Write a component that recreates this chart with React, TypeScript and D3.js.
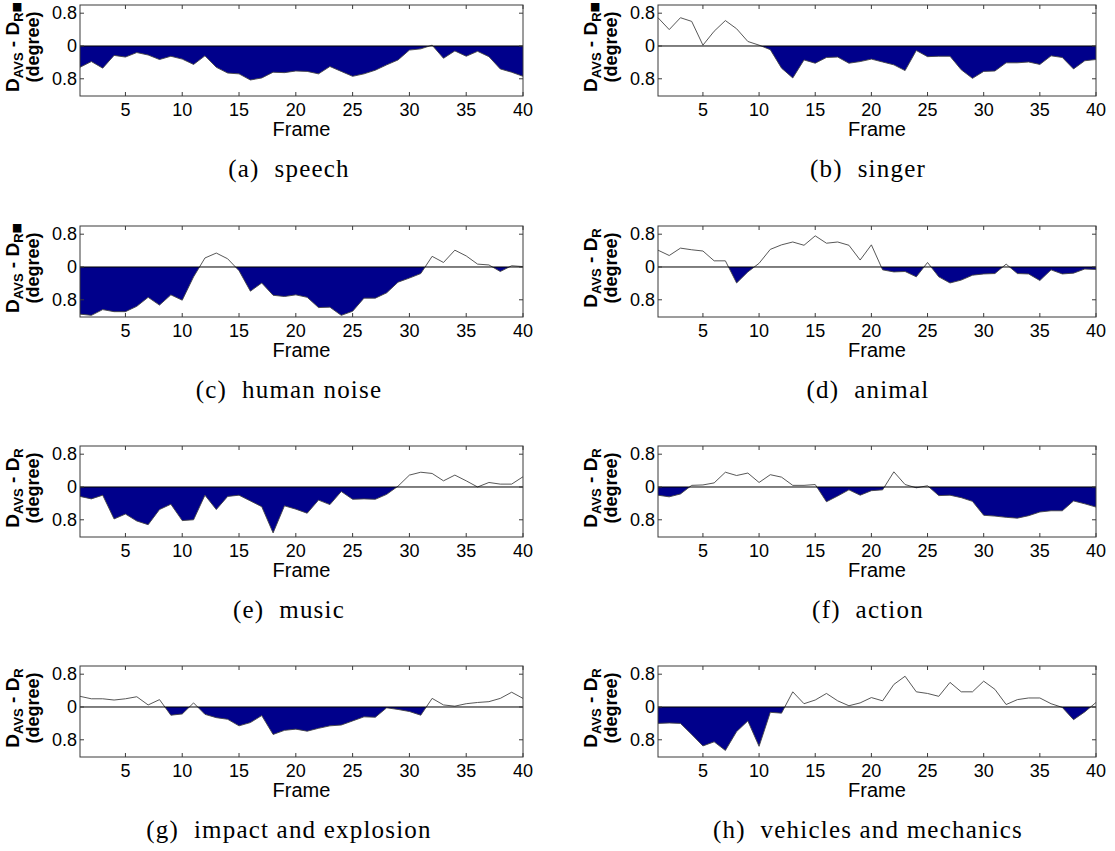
import React from 'react';
import * as d3 from 'd3';

const frames = [1,2,3,4,5,6,7,8,9,10,11,12,13,14,15,16,17,18,19,20,21,22,23,24,25,26,27,28,29,30,31,32,33,34,35,36,37,38,39,40];

const speech = [-0.52,-0.38,-0.54,-0.23,-0.27,-0.16,-0.22,-0.33,-0.25,-0.32,-0.45,-0.24,-0.52,-0.66,-0.68,-0.83,-0.78,-0.64,-0.65,-0.61,-0.62,-0.68,-0.50,-0.62,-0.74,-0.68,-0.59,-0.46,-0.34,-0.10,-0.07,0.02,-0.30,-0.12,-0.25,-0.13,-0.26,-0.56,-0.64,-0.74];
const singer = [0.69,0.40,0.69,0.60,0.02,0.36,0.62,0.42,0.11,0.02,-0.09,-0.54,-0.78,-0.34,-0.42,-0.28,-0.27,-0.42,-0.38,-0.32,-0.39,-0.46,-0.60,-0.11,-0.26,-0.25,-0.25,-0.58,-0.79,-0.62,-0.61,-0.41,-0.41,-0.39,-0.45,-0.24,-0.28,-0.56,-0.36,-0.33];
const humanNoise = [-1.15,-1.18,-1.04,-1.09,-1.09,-0.96,-0.74,-0.93,-0.68,-0.81,-0.24,0.22,0.34,0.20,-0.09,-0.59,-0.39,-0.69,-0.72,-0.68,-0.74,-0.99,-0.98,-1.18,-1.08,-0.76,-0.76,-0.63,-0.37,-0.27,-0.16,0.26,0.11,0.41,0.27,0.07,0.05,-0.11,0.03,0.01];
const animal = [0.41,0.28,0.46,0.42,0.39,0.15,0.15,-0.39,-0.12,0.09,0.43,0.54,0.61,0.53,0.76,0.58,0.61,0.53,0.17,0.54,-0.07,-0.12,-0.11,-0.24,0.11,-0.24,-0.39,-0.32,-0.20,-0.17,-0.16,0.07,-0.16,-0.17,-0.33,-0.07,-0.17,-0.15,-0.05,-0.06];
const music = [-0.23,-0.29,-0.20,-0.78,-0.66,-0.83,-0.92,-0.55,-0.42,-0.82,-0.80,-0.20,-0.55,-0.23,-0.20,-0.34,-0.48,-1.12,-0.46,-0.54,-0.64,-0.32,-0.43,-0.11,-0.30,-0.29,-0.30,-0.18,0.02,0.29,0.36,0.33,0.15,0.29,0.15,0.0,0.11,0.07,0.07,0.25];
const action = [-0.20,-0.24,-0.17,0.04,0.05,0.10,0.36,0.28,0.34,0.11,0.30,0.24,0.04,0.04,0.06,-0.36,-0.22,-0.07,-0.20,-0.09,-0.07,0.37,0.06,-0.02,0.03,-0.21,-0.20,-0.26,-0.35,-0.69,-0.71,-0.74,-0.76,-0.70,-0.61,-0.58,-0.58,-0.34,-0.41,-0.49];
const impact = [0.26,0.20,0.20,0.17,0.20,0.25,0.05,0.18,-0.20,-0.17,0.10,-0.18,-0.26,-0.30,-0.46,-0.38,-0.21,-0.67,-0.57,-0.54,-0.59,-0.52,-0.46,-0.44,-0.34,-0.24,-0.25,-0.02,-0.06,-0.11,-0.20,0.21,0.05,0.02,0.08,0.11,0.13,0.21,0.36,0.21];
const vehicles = [-0.40,-0.39,-0.40,-0.67,-0.95,-0.85,-1.06,-0.60,-0.34,-0.96,-0.13,-0.15,0.37,0.08,0.17,0.33,0.15,0.03,0.10,0.23,0.15,0.55,0.75,0.37,0.33,0.26,0.60,0.37,0.37,0.63,0.43,0.06,0.18,0.22,0.22,0.08,-0.01,-0.31,-0.12,0.11];

const captions = ['(a)  speech','(b)  singer','(c)  human noise','(d)  animal','(e)  music','(f)  action','(g)  impact and explosion','(h)  vehicles and mechanics'];
const seriesList = [speech, singer, humanNoise, animal, music, action, impact, vehicles];
const squareFlags = [true, true, true, false, false, false, false, false];

const xTickValues = [5,10,15,20,25,30,35,40];
const yTickValues = [-0.8, 0, 0.8];
const yTickLabels = ['0.8', '0', '0.8'];
const yDomain = [-1.22, 1.0];

const COL_X = [80, 658];
const COL_W = [443, 438];
const ROW_Y = [5, 226, 446, 666];
const PLOT_H = 91;
const CAP_X = [289, 868];

const FILL = '#00008B';
const AX = '#3a3a3a';
const SANS = 'Liberation Sans, Arial, Helvetica, sans-serif';

function Panel({ idx }: { idx: number }) {
  const col = idx % 2;
  const row = Math.floor(idx / 2);
  const x0 = COL_X[col];
  const w = COL_W[col];
  const y0 = ROW_Y[row];
  const h = PLOT_H;
  const values = seriesList[idx];
  const xs = d3.scaleLinear().domain([1, 40]).range([x0, x0 + w]);
  const ys = d3.scaleLinear().domain(yDomain).range([y0 + h, y0]);
  const line = d3.line<number>().x((_, i) => xs(frames[i])).y((d) => ys(d));
  const area = d3.area<number>().x((_, i) => xs(frames[i])).y0(ys(0)).y1((d) => ys(d));
  const clipId = `clipneg${idx}`;
  const zeroY = ys(0);
  const labelCy = zeroY + 1;
  const tk = 4;
  return (
    <g>
      <defs>
        <clipPath id={clipId}>
          <rect x={x0} y={zeroY} width={w} height={y0 + h - zeroY} />
        </clipPath>
      </defs>
      <path d={area(values) || ''} fill={FILL} clipPath={`url(#${clipId})`} />
      <path d={line(values) || ''} fill="none" stroke="#444" strokeWidth={0.9} />
      <line x1={x0} x2={x0 + w} y1={zeroY} y2={zeroY} stroke="#000" strokeWidth={1} />
      <rect x={x0} y={y0} width={w} height={h} fill="none" stroke={AX} strokeWidth={1} />
      {xTickValues.map((t) => (
        <g key={'xt' + t}>
          <line x1={xs(t)} x2={xs(t)} y1={y0 + h} y2={y0 + h - tk} stroke={AX} />
          <line x1={xs(t)} x2={xs(t)} y1={y0} y2={y0 + tk} stroke={AX} />
          <text x={xs(t)} y={y0 + h + 20} textAnchor="middle" fontFamily={SANS} fontSize={18} fill="#000">{t}</text>
        </g>
      ))}
      {yTickValues.map((t, i) => (
        <g key={'yt' + i}>
          <line x1={x0} x2={x0 + tk} y1={ys(t)} y2={ys(t)} stroke={AX} />
          <line x1={x0 + w} x2={x0 + w - tk} y1={ys(t)} y2={ys(t)} stroke={AX} />
          <text x={x0 - 3} y={ys(t) + 6} textAnchor="end" fontFamily={SANS} fontSize={18} fill="#000">{yTickLabels[i]}</text>
        </g>
      ))}
      <text x={(x0 + x0 + w) / 2} y={y0 + h + 40} textAnchor="middle" fontFamily={SANS} fontSize={20} fill="#000">Frame</text>
      <text transform={`translate(${x0 - 61},${labelCy}) rotate(-90)`} textAnchor="middle" fontFamily={SANS} fontSize={19} fontWeight="bold" fill="#000">
        D<tspan fontSize={13} dy={4}>AVS</tspan><tspan dy={-4}> - D</tspan><tspan fontSize={13} dy={4}>R</tspan>
        {squareFlags[idx] ? <tspan fontFamily="DejaVu Sans" fontSize={11} dy={-3}>■</tspan> : null}
      </text>
      <text transform={`translate(${x0 - 41},${labelCy}) rotate(-90)`} textAnchor="middle" fontFamily={SANS} fontSize={18} fontWeight="bold" fill="#000">(degree)</text>
      <text x={CAP_X[col]} y={y0 + 172} textAnchor="middle" fontFamily="Liberation Serif, Times New Roman, serif" fontSize={25} letterSpacing={1.2} fill="#000" style={{ whiteSpace: 'pre' }}>{captions[idx]}</text>
    </g>
  );
}

export default function App() {
  return (
    <svg width={1115} height={851} style={{ position: 'absolute', left: 0, top: 0, background: '#fff' }}>
      <rect x={0} y={0} width={1115} height={851} fill="#fff" />
      {captions.map((_, i) => <Panel key={i} idx={i} />)}
    </svg>
  );
}
